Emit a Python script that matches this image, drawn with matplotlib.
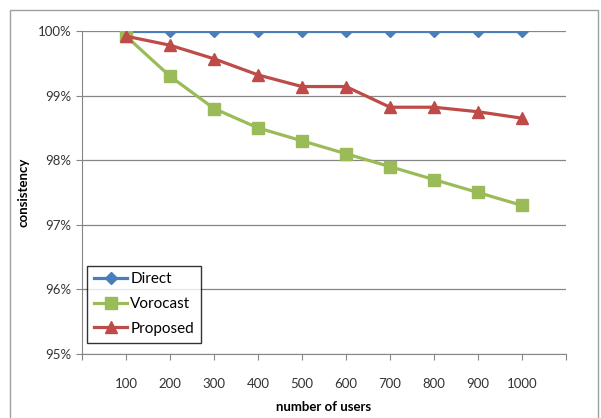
import matplotlib
matplotlib.use("Agg")
import matplotlib.pyplot as plt
from matplotlib.patches import Rectangle
from matplotlib.ticker import FuncFormatter

plt.rcParams['font.family'] = ['Lato', 'DejaVu Sans']

# data
users = [100, 200, 300, 400, 500, 600, 700, 800, 900, 1000]
direct = [100, 100, 100, 100, 100, 100, 100, 100, 100, 100]
vorocast = [99.92, 99.3, 98.8, 98.5, 98.3, 98.1, 97.9, 97.7, 97.5, 97.3]
proposed = [99.92, 99.78, 99.57, 99.32, 99.14, 99.14, 98.82, 98.82, 98.75, 98.65]

fig = plt.figure(figsize=(6.01, 4.18), dpi=100)
# outer chart border
fig.patches.append(Rectangle((10 / 601, -0.02), 588 / 601, 1 - 10 / 418 + 0.02,
                             transform=fig.transFigure, fill=False,
                             edgecolor='#a0a0a0', linewidth=1))
ax = fig.add_axes([82 / 601, 1 - 354 / 418, 484 / 601, 323 / 418])

pos = list(range(1, len(users) + 1))
ax.plot(pos, direct, color='#4A7EBB', lw=2.3, marker='D', ms=6, label='Direct', zorder=3)
ax.plot(pos, vorocast, color='#9BBB59', lw=2.3, marker='s', ms=8, label='Vorocast', zorder=3)
ax.plot(pos, proposed, color='#BE4B48', lw=2.3, marker='^', ms=8, label='Proposed', zorder=4)

ax.set_xlim(0, len(users) + 1)
ax.set_ylim(95, 100)
ax.set_xticks(range(0, len(users) + 2))
ax.set_xticklabels([''] + [str(u) for u in users] + [''])
ax.set_yticks([95, 96, 97, 98, 99, 100])
ax.yaxis.set_major_formatter(FuncFormatter(lambda v, p: f"{v:.0f}%"))
ax.grid(axis='y', color='#868686', lw=0.9)
ax.set_axisbelow(True)
for s in ['top', 'right']:
    ax.spines[s].set_visible(False)
for s in ['left', 'bottom']:
    ax.spines[s].set_color('#868686')
ax.tick_params(axis='both', colors='#868686', labelcolor='#333333', labelsize=9.5, length=4)
ax.tick_params(axis='x', pad=13)

ax.set_xlabel('number of users', fontweight='bold', fontsize=9.5, labelpad=8)
ax.set_ylabel('consistency', fontweight='bold', fontsize=9.5, labelpad=6)

leg = ax.legend(loc='lower left', bbox_to_anchor=(0.01, 0.035), frameon=True, fancybox=False,
                fontsize=11, handlelength=2.2, handletextpad=0.2, borderpad=0.45,
                labelspacing=0.7, borderaxespad=0)
leg.get_frame().set_edgecolor('black')
leg.get_frame().set_linewidth(1)

fig.savefig('out.png', dpi=100)
